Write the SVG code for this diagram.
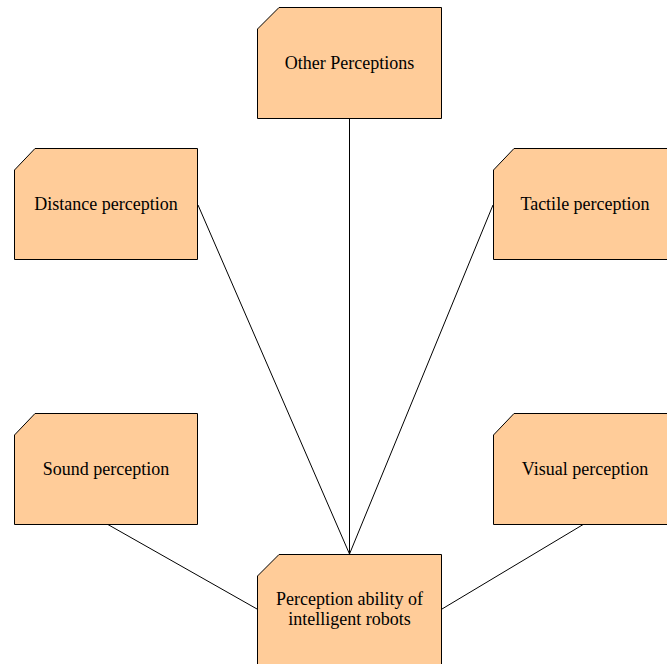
<svg xmlns="http://www.w3.org/2000/svg" width="667" height="664" viewBox="0 0 667 664">
<style>
.box{fill:#FFCC99;stroke:#000;stroke-width:1}
.lbl{font-family:"Liberation Serif","Times New Roman",serif;font-size:18px;fill:#000;text-anchor:middle}
.con{stroke:#000;stroke-width:1;fill:none}
</style>
<rect width="667" height="664" fill="#fff"/>
<g id="connectors">
<line class="con" x1="349.5" y1="118" x2="349.5" y2="554"/>
<line class="con" x1="198" y1="205" x2="349.5" y2="554"/>
<line class="con" x1="493" y1="205" x2="349.5" y2="554"/>
<line class="con" x1="107" y1="524" x2="257" y2="609"/>
<line class="con" x1="584" y1="524" x2="442" y2="609"/>
</g>
<g id="other">
<path class="box" d="M279,7.5 H441.5 V118.5 H257.5 V29 Z"/>
<text class="lbl" x="349.5" y="69">Other Perceptions</text>
</g>
<g id="distance">
<path class="box" d="M35,148.5 H197.5 V259.5 H14.5 V170 Z"/>
<text class="lbl" x="106" y="210">Distance perception</text>
</g>
<g id="tactile">
<path class="box" d="M514,148.5 H677 V259.5 H493.5 V170 Z"/>
<text class="lbl" x="585" y="210">Tactile perception</text>
</g>
<g id="sound">
<path class="box" d="M35,413.5 H197.5 V524.5 H14.5 V435 Z"/>
<text class="lbl" x="106" y="475">Sound perception</text>
</g>
<g id="visual">
<path class="box" d="M514,413.5 H677 V524.5 H493.5 V435 Z"/>
<text class="lbl" x="585" y="475">Visual perception</text>
</g>
<g id="center">
<path class="box" d="M279,554.5 H441.5 V680 H257.5 V576 Z"/>
<text class="lbl" x="349.5" y="605">Perception ability of</text>
<text class="lbl" x="349.5" y="625">intelligent robots</text>
</g>
</svg>
